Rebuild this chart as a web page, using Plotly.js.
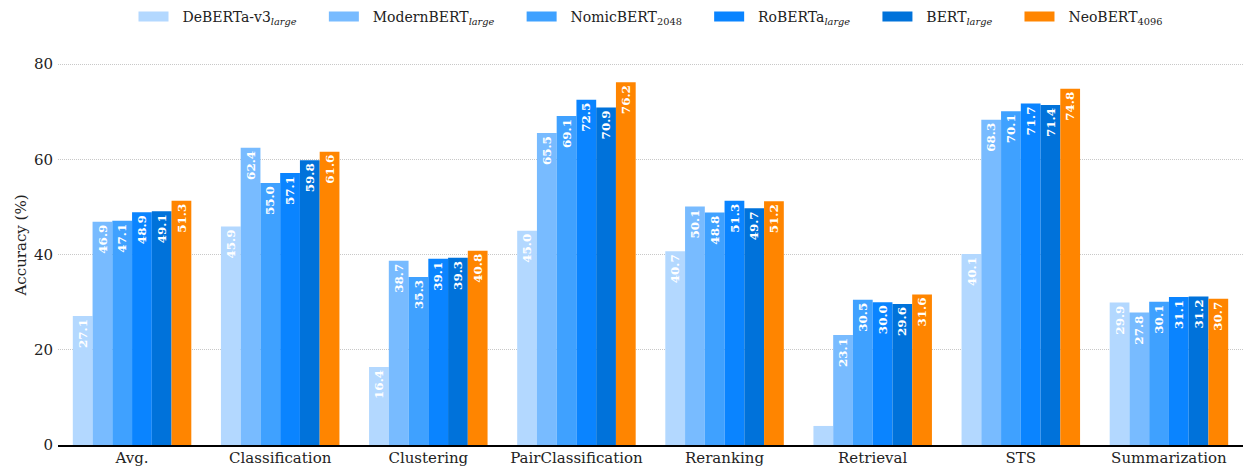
<!DOCTYPE html>
<html>
<head>
<meta charset="utf-8">
<script src="https://cdn.plot.ly/plotly-3.0.1.min.js"></script>
<style>html,body{margin:0;padding:0;background:#fff}#chart{width:1243px;height:467px}</style>
</head>
<body>
<div id="chart"></div>
<script>
const categories = ["Avg.", "Classification", "Clustering", "PairClassification", "Reranking", "Retrieval", "STS", "Summarization"];
const seriesNames = ["DeBERTa-v3<sub><i>large</i></sub>", "ModernBERT<sub><i>large</i></sub>", "NomicBERT<sub>2048</sub>", "RoBERTa<sub><i>large</i></sub>", "BERT<sub><i>large</i></sub>", "NeoBERT<sub>4096</sub>"];
const debertaV3 = [27.1, 45.9, 16.4, 45.0, 40.7, 4.0, 40.1, 29.9];
const modernBert = [46.9, 62.4, 38.7, 65.5, 50.1, 23.1, 68.3, 27.8];
const nomicBert = [47.1, 55.0, 35.3, 69.1, 48.8, 30.5, 70.1, 30.1];
const roberta = [48.9, 57.1, 39.1, 72.5, 51.3, 30.0, 71.7, 31.1];
const bert = [49.1, 59.8, 39.3, 70.9, 49.7, 29.6, 71.4, 31.2];
const neoBert = [51.3, 61.6, 40.8, 76.2, 51.2, 31.6, 74.8, 30.7];
const seriesValues = [debertaV3, modernBert, nomicBert, roberta, bert, neoBert];
const colors = ["#b3d8ff", "#78bbff", "#3fa1ff", "#0a84ff", "#0072da", "#ff8500"];

const FONT = "DejaVu Serif";
const NB = "\u00A0";
const barTraces = seriesValues.map((vals, i) => ({
  type: "bar",
  name: seriesNames[i],
  x: categories,
  y: vals,
  text: vals.map(v => v < 10 ? "" : v.toFixed(1)),
  marker: {color: colors[i], line: {width: 0}},
  textposition: "inside",
  insidetextanchor: "end",
  textangle: -90,
  textfont: {family: FONT, size: 13, color: "#ffffff", weight: 700},
  showlegend: false,
  hoverinfo: "skip"
}));
// legend-only entries (wide rectangular swatches)
const legendTraces = seriesNames.map((n, i) => ({
  type: "scatter", mode: "lines",
  name: NB + NB + n + (i < seriesNames.length - 1 ? NB.repeat(5) : ""),
  x: [null], y: [null],
  line: {color: colors[i], width: 11},
  showlegend: true, hoverinfo: "skip"
}));

const layout = {
  width: 1243, height: 467,
  margin: {l: 58, r: 0, t: 45, b: 22, autoexpand: false},
  paper_bgcolor: "#fff", plot_bgcolor: "#fff",
  font: {family: FONT, size: 15, color: "#222"},
  barmode: "group", bargap: 0.2, bargroupgap: 0,
  showlegend: true,
  legend: {orientation: "h", x: 0.5, xanchor: "center", y: 1.07, yanchor: "middle",
           font: {family: FONT, size: 14, color: "#222"}, itemwidth: 30, traceorder: "normal"},
  xaxis: {type: "category", range: [-0.5, 7.5], showline: true, linecolor: "#000", linewidth: 2,
          ticks: "", showgrid: false, tickfont: {family: FONT, size: 15, color: "#222"}, automargin: false,
          ticklabelstandoff: -2},
  yaxis: {range: [0, 84], tickvals: [0, 20, 40, 60, 80], showgrid: true, gridcolor: "#c8c8c8",
          griddash: "1px,1px", gridwidth: 1, zeroline: false, showline: false, ticks: "",
          tickfont: {family: FONT, size: 15, color: "#222"}, automargin: false, ticklabelstandoff: 4,
          title: {text: "Accuracy (%)", font: {family: FONT, size: 15, color: "#222"}, standoff: 3}}
};

Plotly.newPlot("chart", barTraces.concat(legendTraces), layout, {displayModeBar: false, staticPlot: true});
</script>
</body>
</html>
